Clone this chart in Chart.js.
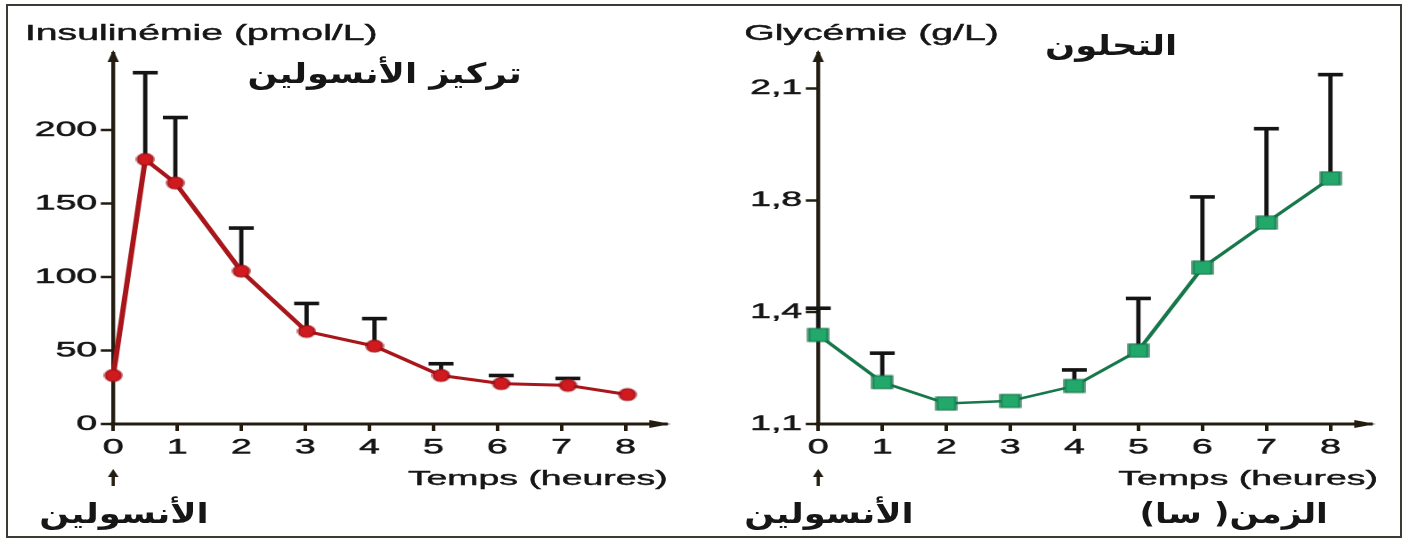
<!DOCTYPE html>
<html>
<head>
<meta charset="utf-8">
<script src="https://cdn.jsdelivr.net/npm/chart.js@4"></script>
<style>
  body { margin: 0; background: #fff; width: 1410px; height: 541px; overflow: hidden; position: relative; }
  #frame { position: absolute; left: 6px; top: 4px; width: 1396px; height: 534px; border: 2px solid #3b3a33; box-sizing: border-box; }
  /* the source picture is stretched sideways, so the whole drawing is too */
  #stage { position: absolute; left: 0; top: 0; width: 792px; height: 541px; transform: scaleX(1.7803); transform-origin: 0 0; }
  .box { position: absolute; top: 0; width: 396px; height: 541px; }
  .t { position: absolute; white-space: nowrap; color: #161616; font-family: "Liberation Sans", Arial, sans-serif; line-height: 1; -webkit-text-stroke: 0.45px #161616; }
  .ar { font-family: "DejaVu Sans", sans-serif; font-weight: bold; direction: rtl; -webkit-text-stroke: 0; transform-origin: 0 0; }
</style>
</head>
<body>
<div id="frame"></div>
<div id="stage">
  <div class="box" style="left:0"><canvas id="insuline" width="396" height="541"></canvas></div>
  <div class="box" style="left:396px"><canvas id="glycemie" width="396" height="541"></canvas></div>

  <div class="t" style="left:14px;top:22px;font-size:22px">Insulinémie (pmol/L)</div>
  <div class="t ar" style="left:139px;top:60px;font-size:28px;transform:scaleX(0.71)">تركيز الأنسولين</div>
  <div class="t" style="right:417px;top:467px;font-size:21px">Temps (heures)</div>
  <div class="t ar" style="left:22px;top:500px;font-size:28px;transform:scaleX(0.71)">الأنسولين</div>

  <div class="t" style="left:418px;top:22px;font-size:22px">Glycémie (g/L)</div>
  <div class="t ar" style="left:587px;top:32px;font-size:28px;transform:scaleX(0.71)">التحلون</div>
  <div class="t" style="right:18px;top:467px;font-size:21px">Temps (heures)</div>
  <div class="t ar" style="left:418px;top:500px;font-size:28px;transform:scaleX(0.71)">الأنسولين</div>
  <div class="t ar" style="left:640px;top:500px;font-size:28px;transform:scaleX(0.69)">الزمن( سا)</div>
</div>

<script>
// --- données ---
var insTimes = [0, 0.5, 0.97, 2, 3.02, 4.08, 5.12, 6.06, 7.1, 8.03];
var insValues = [33, 180, 164, 104, 63, 53, 33, 27.5, 26.3, 20];
var insErrTop = [null, 239, 208.5, 133.3, 82, 71.7, 41, 33, 31, null];
var insTicks = [0, 50, 100, 150, 200];

var glyTimes = [0, 1, 2, 3, 4, 5, 6, 7, 8];
var glyValues = [1.339, 1.212, 1.155, 1.162, 1.202, 1.297, 1.559, 1.72, 1.859];
var glyErrTop = [1.414, 1.29, null, null, 1.245, 1.449, 1.809, 1.992, 2.137];
var glyTicks = [1.1, 1.4, 1.8, 2.1];
var glyTickLabels = ['1,1', '1,4', '1,8', '2,1'];

var timeTicks = [0, 1, 2, 3, 4, 5, 6, 7, 8];

var axisColor = '#231c10';
var textColor = '#161616';
var tickFont = { family: 'Liberation Sans', size: 21 };

// l'axe des glycémies a des graduations régulières mais des valeurs irrégulières
var LinearScale = Chart.registry.getScale('linear');
function toUnits(v) {
    var b = glyTicks, i = 0;
    while (i < b.length - 2 && v > b[i + 1]) i++;
    return i + (v - b[i]) / (b[i + 1] - b[i]);
}
function fromUnits(u) {
    var b = glyTicks;
    var i = Math.max(0, Math.min(b.length - 2, Math.floor(u)));
    return b[i] + (u - i) * (b[i + 1] - b[i]);
}
class PiecewiseScale extends LinearScale {
    getPixelForValue(value) {
        if (value === null || isNaN(value)) return NaN;
        var u0 = toUnits(this.min), u1 = toUnits(this.max);
        return this.getPixelForDecimal((toUnits(value) - u0) / (u1 - u0));
    }
    getValueForPixel(pixel) {
        var u0 = toUnits(this.min), u1 = toUnits(this.max);
        return fromUnits(u0 + this.getDecimalForPixel(pixel) * (u1 - u0));
    }
}
PiecewiseScale.id = 'piecewise';
PiecewiseScale.defaults = LinearScale.defaults;
Chart.register(PiecewiseScale);

// petits marqueurs (ellipse rouge, carré vert)
function makePoint(w, h, fill, stroke, round) {
    var c = document.createElement('canvas');
    c.width = w + 2;
    c.height = h + 2;
    var ctx = c.getContext('2d');
    ctx.fillStyle = fill;
    ctx.strokeStyle = stroke;
    ctx.lineWidth = 1.2;
    ctx.beginPath();
    if (round) ctx.ellipse(c.width / 2, c.height / 2, w / 2, h / 2, 0, 0, Math.PI * 2);
    else ctx.rect(1, 1, w, h);
    ctx.fill();
    ctx.stroke();
    return c;
}

// barres d'erreur, flèches des axes et flèche "insuline" sous le 0
var decor = {
    id: 'decor',
    beforeDatasetsDraw: function (chart, args, opts) {
        var ctx = chart.ctx;
        var ys = chart.scales.y;
        var meta = chart.getDatasetMeta(0);
        ctx.save();
        ctx.strokeStyle = '#141414';
        ctx.fillStyle = '#141414';
        ctx.lineWidth = 2.4;
        meta.data.forEach(function (pt, i) {
            var e = opts.err[i];
            if (e === null || e === undefined) return;
            var yTop = ys.getPixelForValue(e);
            ctx.beginPath();
            ctx.moveTo(pt.x, pt.y);
            ctx.lineTo(pt.x, yTop);
            ctx.stroke();
            ctx.fillRect(pt.x - 7, yTop - 1.8, 14, 3.6);
        });
        ctx.restore();
    },
    afterDraw: function (chart) {
        var ctx = chart.ctx;
        var ca = chart.chartArea;
        var x0 = chart.scales.x.getPixelForValue(0);
        ctx.save();
        ctx.fillStyle = axisColor;
        ctx.strokeStyle = axisColor;
        // haut de l'axe y
        ctx.beginPath();
        ctx.moveTo(ca.left, ca.top - 3);
        ctx.lineTo(ca.left - 3.2, ca.top + 9);
        ctx.lineTo(ca.left + 3.2, ca.top + 9);
        ctx.closePath();
        ctx.fill();
        // bout de l'axe x
        ctx.beginPath();
        ctx.moveTo(ca.right + 2, ca.bottom);
        ctx.lineTo(ca.right - 10, ca.bottom - 4);
        ctx.lineTo(ca.right - 10, ca.bottom + 4);
        ctx.closePath();
        ctx.fill();
        // injection d'insuline
        ctx.beginPath();
        ctx.moveTo(x0, 469);
        ctx.lineTo(x0 - 3, 477);
        ctx.lineTo(x0 + 3, 477);
        ctx.closePath();
        ctx.fill();
        ctx.lineWidth = 1.8;
        ctx.beginPath();
        ctx.moveTo(x0, 475);
        ctx.lineTo(x0, 486);
        ctx.stroke();
        ctx.restore();
    }
};

function xScale() {
    return {
        type: 'linear',
        min: 0,
        max: 8.65,
        afterBuildTicks: function (s) { s.ticks = timeTicks.map(function (v) { return { value: v }; }); },
        afterFit: function (s) { s.height = 117; },
        ticks: { color: textColor, font: tickFont, padding: 4, maxRotation: 0, autoSkip: false,
                 textStrokeColor: textColor, textStrokeWidth: 0.5,
                 callback: function (v) { return String(v); } },
        grid: { drawOnChartArea: false, tickLength: 7, tickWidth: 2, color: axisColor },
        border: { display: true, width: 3, color: axisColor }
    };
}

function yTicks(callback) {
    var t = { color: textColor, font: tickFont, padding: 2, textStrokeColor: textColor, textStrokeWidth: 0.5 };
    if (callback) t.callback = callback;
    return t;
}

function baseOptions(yOpts, err) {
    return {
        responsive: false,
        devicePixelRatio: 2,
        animation: false,
        events: [],
        layout: { padding: { top: 53, right: 21.3, bottom: 0, left: 0 } },
        plugins: { legend: { display: false }, tooltip: { enabled: false }, decor: { err: err } },
        scales: { x: xScale(), y: yOpts }
    };
}

// insulinémie
var insulineChart = new Chart(document.getElementById('insuline'), {
    type: 'line',
    data: {
        datasets: [{
            data: insTimes.map(function (t, i) { return { x: t, y: insValues[i] }; }),
            borderColor: '#a8161b',
            borderWidth: 3,
            pointStyle: makePoint(9, 12, '#d11a20', '#9a1015', true),
            pointRadius: 6,
            tension: 0,
            clip: false
        }]
    },
    options: baseOptions({
        type: 'linear',
        min: 0,
        max: 252.4,
        afterBuildTicks: function (s) { s.ticks = insTicks.map(function (v) { return { value: v }; }); },
        afterFit: function (s) { s.width = 63.6; },
        ticks: yTicks(null),
        grid: { drawOnChartArea: false, tickLength: 7, tickWidth: 2.5, color: axisColor },
        border: { display: true, width: 2.2, color: axisColor }
    }, insErrTop),
    plugins: [decor]
});

// glycémie
var glycemieChart = new Chart(document.getElementById('glycemie'), {
    type: 'line',
    data: {
        datasets: [{
            data: glyTimes.map(function (t, i) { return { x: t, y: glyValues[i] }; }),
            borderColor: '#18774a',
            borderWidth: 2.5,
            pointStyle: makePoint(11, 13, '#22a86a', '#137046', false),
            pointRadius: 7,
            tension: 0,
            clip: false
        }]
    },
    options: baseOptions({
        type: 'piecewise',
        min: 1.1,
        max: 2.195,
        afterBuildTicks: function (s) { s.ticks = glyTicks.map(function (v) { return { value: v }; }); },
        afterFit: function (s) { s.width = 63.6; },
        ticks: yTicks(function (v, i) { return glyTickLabels[i]; }),
        grid: { drawOnChartArea: false, tickLength: 7, tickWidth: 2.5, color: axisColor },
        border: { display: true, width: 2.2, color: axisColor }
    }, glyErrTop),
    plugins: [decor]
});
</script>
</body>
</html>
